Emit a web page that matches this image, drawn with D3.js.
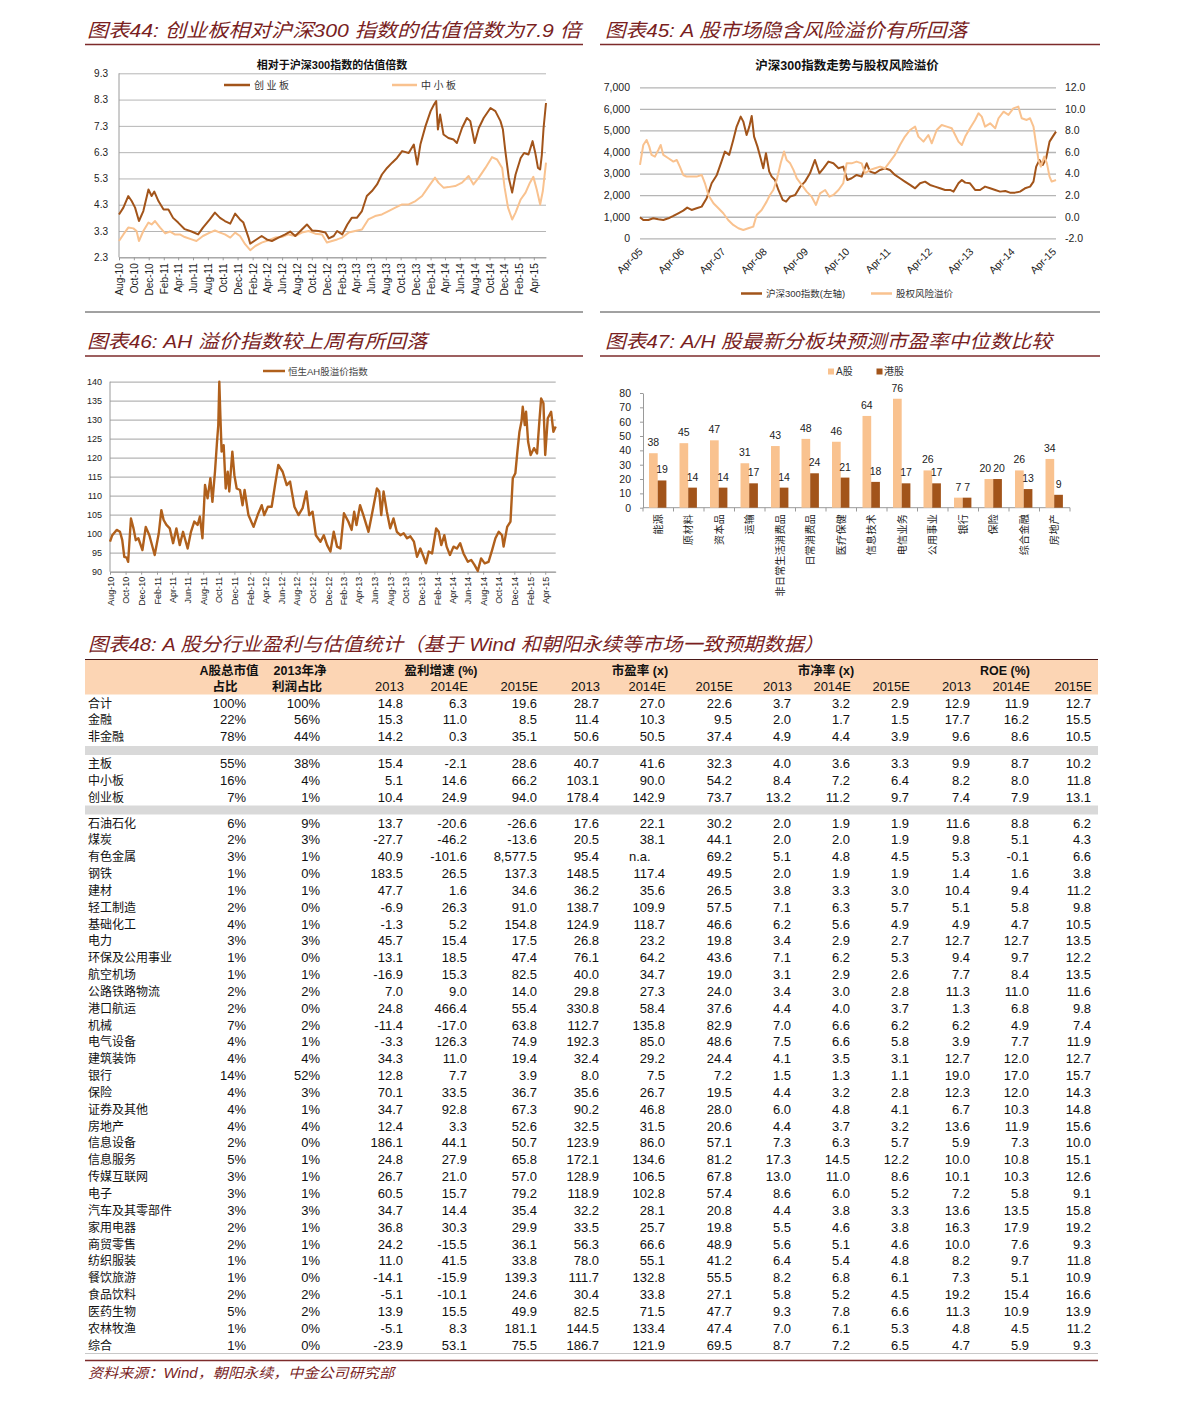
<!DOCTYPE html>
<html lang="zh-CN">
<head>
<meta charset="utf-8">
<title>估值与盈利</title>
<script src="https://cdn.jsdelivr.net/npm/d3@7/dist/d3.min.js"></script>
<style>
html,body{margin:0;padding:0;background:#fff;}
svg{display:block;}
</style>
</head>
<body>
<svg id="page" width="1191" height="1401"></svg>
<script>
// ================= DATA =================
// 图表44
const gemSeries = [["2010-08-01",3.93],["2010-08-19",4.19],["2010-09-08",4.63],["2010-09-22",4.44],["2010-10-06",4.19],["2010-10-22",3.68],["2010-11-09",4.06],["2010-11-30",4.88],["2010-12-13",4.63],["2010-12-24",4.80],["2011-01-10",4.44],["2011-01-31",4.12],["2011-02-20",4.12],["2011-03-11",3.80],["2011-04-01",3.62],["2011-04-28",3.37],["2011-05-26",3.28],["2011-06-22",3.17],["2011-07-12",3.43],["2011-08-09",3.74],["2011-08-30",4.00],["2011-09-20",3.80],["2011-10-10",3.68],["2011-11-01",3.58],["2011-11-21",3.96],["2011-12-11",3.74],["2011-12-25",3.62],["2012-01-15",3.05],["2012-01-22",2.82],["2012-02-12",2.95],["2012-03-09",3.11],["2012-03-30",2.98],["2012-04-20",2.92],["2012-05-17",3.05],["2012-06-14",3.17],["2012-07-04",3.28],["2012-07-25",3.11],["2012-08-15",3.30],["2012-09-11",3.55],["2012-10-02",3.32],["2012-10-29",3.30],["2012-11-26",3.24],["2012-12-10",3.02],["2012-12-30",3.11],["2013-01-13",3.30],["2013-02-03",3.17],["2013-02-24",3.55],["2013-03-14",3.80],["2013-04-04",3.80],["2013-04-25",4.06],["2013-05-15",4.63],["2013-06-05",4.82],["2013-06-26",5.07],["2013-07-16",5.45],["2013-08-06",5.70],["2013-08-27",5.90],["2013-09-16",6.08],["2013-10-07",6.34],["2013-11-03",6.27],["2013-11-24",6.59],["2013-12-08",5.83],["2013-12-21",6.59],["2014-01-11",7.29],["2014-02-01",7.86],["2014-02-15",8.11],["2014-02-24",8.24],["2014-03-03",7.16],["2014-03-12",7.73],["2014-03-26",6.97],["2014-04-15",6.84],["2014-05-06",6.78],["2014-05-20",6.65],["2014-06-10",7.22],["2014-06-30",7.60],["2014-07-14",7.48],["2014-08-01",6.65],["2014-08-18",7.22],["2014-09-07",7.60],["2014-10-05",7.98],["2014-10-25",7.86],["2014-11-15",7.48],["2014-11-25",7.16],["2014-12-05",6.34],["2014-12-19",5.33],["2015-01-02",4.76],["2015-01-16",5.45],["2015-02-06",6.08],["2015-02-20",6.27],["2015-03-10",6.21],["2015-03-27",6.72],["2015-04-07",6.27],["2015-04-18",5.70],["2015-04-27",5.64],["2015-05-04",6.21],["2015-05-11",7.22],["2015-05-21",8.17]];
const smeSeries = [["2010-08-01",2.92],["2010-08-19",3.17],["2010-09-08",3.43],["2010-09-29",3.40],["2010-10-12",3.30],["2010-10-22",2.92],["2010-11-09",3.30],["2010-11-30",3.62],["2010-12-13",3.55],["2010-12-27",3.68],["2011-01-17",3.43],["2011-02-07",3.21],["2011-02-27",3.28],["2011-03-18",3.17],["2011-04-08",3.17],["2011-04-28",3.07],["2011-05-26",2.98],["2011-06-15",2.92],["2011-07-12",3.11],["2011-08-09",3.24],["2011-08-30",3.32],["2011-09-20",3.24],["2011-10-10",3.17],["2011-11-01",3.05],["2011-11-21",3.24],["2011-12-11",3.11],["2012-01-01",2.80],["2012-01-22",2.57],["2012-02-12",2.73],["2012-03-09",2.86],["2012-04-06",2.95],["2012-05-03",3.05],["2012-05-30",3.07],["2012-06-27",3.17],["2012-07-25",3.11],["2012-08-21",3.24],["2012-09-18",3.30],["2012-10-15",3.20],["2012-11-12",3.17],["2012-12-02",2.86],["2012-12-23",2.92],["2013-01-13",2.98],["2013-02-03",3.05],["2013-03-01",3.24],["2013-03-28",3.30],["2013-04-25",3.36],["2013-05-21",3.74],["2013-06-18",3.87],["2013-07-16",3.93],["2013-08-12",4.06],["2013-09-09",4.19],["2013-10-07",4.31],["2013-11-03",4.31],["2013-12-01",4.44],["2013-12-28",4.63],["2014-01-25",5.01],["2014-02-19",5.33],["2014-03-05",5.14],["2014-03-26",4.95],["2014-04-15",4.97],["2014-05-13",5.01],["2014-06-10",5.14],["2014-07-07",5.39],["2014-07-27",5.07],["2014-08-18",5.33],["2014-09-14",5.70],["2014-10-11",6.11],["2014-11-01",6.02],["2014-11-22",5.70],["2014-12-02",4.95],["2014-12-16",4.19],["2015-01-02",3.74],["2015-01-16",4.00],["2015-02-06",4.50],["2015-02-26",4.76],["2015-03-16",5.14],["2015-03-30",5.36],["2015-04-13",4.88],["2015-04-27",4.31],["2015-05-08",4.82],["2015-05-21",5.90]];
const monthTickLabels44 = ["Aug-10","Oct-10","Dec-10","Feb-11","Apr-11","Jun-11","Aug-11","Oct-11","Dec-11","Feb-12","Apr-12","Jun-12","Aug-12","Oct-12","Dec-12","Feb-13","Apr-13","Jun-13","Aug-13","Oct-13","Dec-13","Feb-14","Apr-14","Jun-14","Aug-14","Oct-14","Dec-14","Feb-15","Apr-15"];
const valueTicks44 = [2.3,3.3,4.3,5.3,6.3,7.3,8.3,9.3];

// 图表45
const hs300Series = [["2005-04-01",974],["2005-04-30",850],["2005-06-14",850],["2005-07-27",927],["2005-09-10",881],["2005-10-24",850],["2005-12-08",927],["2006-01-21",1036],["2006-03-05",1159],["2006-04-18",1283],["2006-05-23",1422],["2006-07-01",1314],["2006-08-14",1391],["2006-09-28",1468],["2006-11-11",1855],["2006-12-25",2550],["2007-02-09",2937],["2007-03-22",3555],["2007-04-21",4019],["2007-05-29",3864],["2007-07-04",4560],["2007-08-03",5178],["2007-09-08",5641],["2007-10-01",5410],["2007-10-30",4791],["2007-11-23",5178],["2007-12-14",5672],["2008-01-04",4714],["2008-02-03",4250],["2008-03-02",3709],["2008-03-25",3246],["2008-04-18",3941],["2008-05-17",3091],["2008-06-08",2859],["2008-07-07",2705],["2008-08-06",2241],["2008-09-13",1777],["2008-10-13",1700],["2008-11-18",1932],["2009-01-01",2009],["2009-02-15",2396],["2009-03-29",2627],["2009-05-12",3014],["2009-06-25",3632],["2009-08-03",3014],["2009-09-08",3246],["2009-10-22",3555],["2009-12-05",3478],["2010-01-19",3246],["2010-03-02",3323],["2010-04-07",2705],["2010-05-15",2782],["2010-06-28",2937],["2010-08-12",2859],["2010-09-25",3478],["2010-10-25",3091],["2010-12-08",3014],["2011-01-22",3168],["2011-03-05",3246],["2011-04-19",3168],["2011-06-02",2937],["2011-07-16",2782],["2011-08-29",2627],["2011-10-13",2473],["2011-11-27",2318],["2012-01-10",2550],["2012-02-23",2627],["2012-04-07",2473],["2012-05-21",2396],["2012-07-04",2318],["2012-08-18",2241],["2012-10-01",2241],["2012-11-01",2164],["2012-12-14",2550],["2013-01-13",2705],["2013-02-12",2581],["2013-03-26",2550],["2013-05-10",2241],["2013-06-23",2241],["2013-08-06",2396],["2013-09-20",2318],["2013-11-04",2241],["2013-12-17",2164],["2014-02-01",2195],["2014-03-14",2117],["2014-04-28",2117],["2014-06-11",2164],["2014-07-25",2318],["2014-09-08",2396],["2014-10-08",2627],["2014-11-01",3323],["2014-11-30",3632],["2014-12-29",3400],["2015-01-28",3709],["2015-02-27",4482],["2015-03-27",4714],["2015-04-25",4946]];
const erpSeries = [["2005-04-01",4.8],["2005-04-30",6.65],["2005-05-29",7.12],["2005-06-22",6.5],["2005-07-12",5.73],["2005-08-11",5.57],["2005-09-10",6.19],["2005-10-01",6.65],["2005-10-24",5.73],["2005-12-08",5.42],["2006-01-21",5.11],["2006-02-20",5.26],["2006-03-19",4.65],["2006-04-18",3.87],["2006-05-17",3.72],["2006-07-01",3.72],["2006-08-14",3.72],["2006-09-28",3.87],["2006-10-27",3.1],["2006-11-26",2.02],["2007-01-10",1.25],["2007-02-23",0.78],["2007-04-07",0.32],["2007-05-20",-0.3],["2007-07-04",-0.76],["2007-08-18",-1.07],["2007-10-01",-1.23],["2007-11-14",-1.07],["2007-12-28",-0.92],["2008-01-27",0.16],["2008-03-11",0.63],["2008-04-24",1.4],["2008-05-23",2.02],["2008-06-22",2.48],["2008-07-22",3.41],["2008-08-26",4.95],["2008-09-25",6.04],["2008-10-18",5.26],["2008-11-18",4.95],["2008-12-17",4.34],["2009-01-16",3.56],["2009-02-28",2.95],["2009-04-13",2.33],["2009-05-27",1.86],["2009-07-04",1.09],["2009-08-09",2.17],["2009-09-23",2.48],["2009-10-31",1.86],["2009-12-05",2.02],["2010-01-19",2.48],["2010-03-02",3.1],["2010-04-01",4.95],["2010-05-15",4.95],["2010-06-28",5.11],["2010-08-12",4.95],["2010-09-11",4.03],["2010-10-25",4.34],["2010-12-08",4.49],["2011-01-22",4.65],["2011-03-05",4.49],["2011-04-19",5.11],["2011-06-02",5.73],["2011-07-16",6.65],["2011-08-29",7.43],["2011-10-13",8.04],["2011-11-27",8.35],["2011-12-26",7.43],["2012-02-09",6.96],["2012-03-23",7.58],["2012-04-22",6.81],["2012-06-05",8.04],["2012-07-19",8.51],["2012-09-02",8.35],["2012-10-16",8.2],["2012-11-15",7.58],["2012-12-14",6.96],["2013-01-13",6.65],["2013-02-12",7.43],["2013-03-26",8.2],["2013-05-10",8.97],["2013-06-09",9.59],["2013-07-08",9.28],["2013-08-06",8.35],["2013-09-20",8.66],["2013-11-04",8.2],["2013-12-03",9.13],["2014-01-17",9.74],["2014-03-01",9.44],["2014-04-13",10.05],["2014-05-27",10.21],["2014-06-26",9.13],["2014-08-09",8.97],["2014-09-08",9.13],["2014-10-08",8.35],["2014-11-01",6.65],["2014-11-21",5.26],["2014-12-12",4.65],["2015-01-11",5.57],["2015-02-04",4.95],["2015-02-27",3.72],["2015-03-18",3.26],["2015-04-25",3.41]];
const yearTickLabels45 = ["Apr-05","Apr-06","Apr-07","Apr-08","Apr-09","Apr-10","Apr-11","Apr-12","Apr-13","Apr-14","Apr-15"];
const leftTicks45 = [0,1000,2000,3000,4000,5000,6000,7000];
const rightTicks45 = [-2,0,2,4,6,8,10,12];

// 图表46
const ahSeries = [["2010-08-01",97.9],["2010-08-10",99.6],["2010-08-27",101.0],["2010-09-09",100.5],["2010-09-18",98.3],["2010-09-26",93.9],["2010-10-05",93.7],["2010-10-11",92.6],["2010-10-22",104.0],["2010-11-01",101.4],["2010-11-10",98.3],["2010-11-20",98.8],["2010-12-06",95.7],["2010-12-19",101.8],["2011-01-02",99.6],["2011-01-23",94.4],["2011-02-08",100.1],["2011-02-18",106.2],["2011-02-27",103.6],["2011-03-10",102.3],["2011-03-23",101.4],["2011-04-05",97.5],["2011-04-18",101.4],["2011-05-01",97.0],["2011-05-14",100.5],["2011-06-01",96.1],["2011-06-14",100.5],["2011-06-27",103.2],["2011-07-10",102.3],["2011-07-19",104.5],["2011-07-29",98.8],["2011-08-08",112.8],["2011-08-18",109.3],["2011-08-29",114.6],["2011-09-06",108.4],["2011-09-16",116.3],["2011-09-24",124.2],["2011-09-29",128.6],["2011-10-03",140.0],["2011-10-07",131.2],["2011-10-12",121.6],["2011-10-20",123.3],["2011-10-28",111.9],["2011-11-05",116.3],["2011-11-11",111.1],["2011-11-23",121.6],["2011-12-01",115.4],["2011-12-10",111.9],["2011-12-23",111.5],["2012-01-02",107.5],["2012-01-10",111.5],["2012-01-25",104.9],["2012-02-14",101.8],["2012-03-01",104.9],["2012-03-17",107.5],["2012-03-27",104.9],["2012-04-10",107.1],["2012-04-25",107.1],["2012-05-08",112.8],["2012-05-21",118.1],["2012-06-07",116.3],["2012-06-23",112.8],["2012-07-06",113.7],["2012-07-23",107.1],["2012-08-08",104.9],["2012-08-24",106.7],["2012-09-08",111.1],["2012-09-19",104.9],["2012-10-02",105.8],["2012-10-15",99.6],["2012-11-02",97.9],["2012-11-15",99.6],["2012-11-28",97.0],["2012-12-11",95.3],["2012-12-24",100.5],["2013-01-06",96.6],["2013-01-19",96.1],["2013-02-02",105.4],["2013-02-19",103.2],["2013-03-04",101.0],["2013-03-14",105.8],["2013-03-23",102.3],["2013-04-06",107.5],["2013-04-19",104.9],["2013-05-09",100.5],["2013-05-22",104.9],["2013-06-11",111.9],["2013-06-20",111.1],["2013-06-28",104.9],["2013-07-07",111.1],["2013-07-20",105.8],["2013-08-02",101.4],["2013-08-15",104.0],["2013-08-28",100.5],["2013-09-11",99.6],["2013-09-24",100.1],["2013-10-07",98.8],["2013-10-20",99.3],["2013-11-03",97.9],["2013-11-15",93.9],["2013-11-28",96.1],["2013-12-11",93.9],["2013-12-20",92.2],["2013-12-31",95.3],["2014-01-13",94.8],["2014-01-29",101.4],["2014-02-08",100.5],["2014-02-18",97.0],["2014-03-02",99.6],["2014-03-11",96.6],["2014-03-24",94.4],["2014-04-07",96.6],["2014-04-20",96.1],["2014-05-03",97.5],["2014-05-16",94.8],["2014-06-02",92.6],["2014-06-15",93.1],["2014-06-28",91.8],["2014-07-11",90.2],["2014-07-24",93.5],["2014-08-07",92.2],["2014-08-22",92.6],["2014-09-05",95.7],["2014-09-18",98.8],["2014-10-01",100.5],["2014-10-14",99.6],["2014-10-20",96.6],["2014-11-03",101.8],["2014-11-16",103.2],["2014-11-25",114.6],["2014-12-05",115.9],["2014-12-13",121.6],["2014-12-21",126.8],["2014-12-29",129.5],["2015-01-03",133.4],["2015-01-11",128.6],["2015-01-16",132.1],["2015-01-24",124.2],["2015-02-03",120.7],["2015-02-16",122.5],["2015-02-28",121.1],["2015-03-09",129.5],["2015-03-16",135.6],["2015-03-25",134.3],["2015-04-01",120.7],["2015-04-11",130.4],["2015-04-24",132.1],["2015-05-03",126.8],["2015-05-12",128.2]];
const monthTickLabels46 = ["Aug-10","Oct-10","Dec-10","Feb-11","Apr-11","Jun-11","Aug-11","Oct-11","Dec-11","Feb-12","Apr-12","Jun-12","Aug-12","Oct-12","Dec-12","Feb-13","Apr-13","Jun-13","Aug-13","Oct-13","Dec-13","Feb-14","Apr-14","Jun-14","Aug-14","Oct-14","Dec-14","Feb-15","Apr-15"];
const valueTicks46 = [90,95,100,105,110,115,120,125,130,135,140];

// 图表47
const barCategories = ["能源","原材料","资本品","运输","非日常生活消费品","日常消费品","医疗保健","信息技术","电信业务","公用事业","银行","保险","综合金融","房地产"];
const aShareValues = [38,45,47,31,43,48,46,64,76,26,7,20,26,34];
const hShareValues = [19,14,14,17,14,24,21,18,17,17,7,20,13,9];
const valueTicks47 = [0,10,20,30,40,50,60,70,80];

// 图表48
const tableYears = ["2013","2014E","2015E"];
const tableGroups = ["盈利增速 (%)","市盈率 (x)","市净率 (x)","ROE (%)"];
const rowsTotal = [
 ["合计",100,100,14.8,6.3,19.6,28.7,27.0,22.6,3.7,3.2,2.9,12.9,11.9,12.7],
 ["金融",22,56,15.3,11.0,8.5,11.4,10.3,9.5,2.0,1.7,1.5,17.7,16.2,15.5],
 ["非金融",78,44,14.2,0.3,35.1,50.6,50.5,37.4,4.9,4.4,3.9,9.6,8.6,10.5]];
const rowsBoard = [
 ["主板",55,38,15.4,-2.1,28.6,40.7,41.6,32.3,4.0,3.6,3.3,9.9,8.7,10.2],
 ["中小板",16,4,5.1,14.6,66.2,103.1,90.0,54.2,8.4,7.2,6.4,8.2,8.0,11.8],
 ["创业板",7,1,10.4,24.9,94.0,178.4,142.9,73.7,13.2,11.2,9.7,7.4,7.9,13.1]];
const rowsSector = [
 ["石油石化",6,9,13.7,-20.6,-26.6,17.6,22.1,30.2,2.0,1.9,1.9,11.6,8.8,6.2],
 ["煤炭",2,3,-27.7,-46.2,-13.6,20.5,38.1,44.1,2.0,2.0,1.9,9.8,5.1,4.3],
 ["有色金属",3,1,40.9,-101.6,8577.5,95.4,"n.a.",69.2,5.1,4.8,4.5,5.3,-0.1,6.6],
 ["钢铁",1,0,183.5,26.5,137.3,148.5,117.4,49.5,2.0,1.9,1.9,1.4,1.6,3.8],
 ["建材",1,1,47.7,1.6,34.6,36.2,35.6,26.5,3.8,3.3,3.0,10.4,9.4,11.2],
 ["轻工制造",2,0,-6.9,26.3,91.0,138.7,109.9,57.5,7.1,6.3,5.7,5.1,5.8,9.8],
 ["基础化工",4,1,-1.3,5.2,154.8,124.9,118.7,46.6,6.2,5.6,4.9,4.9,4.7,10.5],
 ["电力",3,3,45.7,15.4,17.5,26.8,23.2,19.8,3.4,2.9,2.7,12.7,12.7,13.5],
 ["环保及公用事业",1,0,13.1,18.5,47.4,76.1,64.2,43.6,7.1,6.2,5.3,9.4,9.7,12.2],
 ["航空机场",1,1,-16.9,15.3,82.5,40.0,34.7,19.0,3.1,2.9,2.6,7.7,8.4,13.5],
 ["公路铁路物流",2,2,7.0,9.0,14.0,29.8,27.3,24.0,3.4,3.0,2.8,11.3,11.0,11.6],
 ["港口航运",2,0,24.8,466.4,55.4,330.8,58.4,37.6,4.4,4.0,3.7,1.3,6.8,9.8],
 ["机械",7,2,-11.4,-17.0,63.8,112.7,135.8,82.9,7.0,6.6,6.2,6.2,4.9,7.4],
 ["电气设备",4,1,-3.3,126.3,74.9,192.3,85.0,48.6,7.5,6.6,5.8,3.9,7.7,11.9],
 ["建筑装饰",4,4,34.3,11.0,19.4,32.4,29.2,24.4,4.1,3.5,3.1,12.7,12.0,12.7],
 ["银行",14,52,12.8,7.7,3.9,8.0,7.5,7.2,1.5,1.3,1.1,19.0,17.0,15.7],
 ["保险",4,3,70.1,33.5,36.7,35.6,26.7,19.5,4.4,3.2,2.8,12.3,12.0,14.3],
 ["证券及其他",4,1,34.7,92.8,67.3,90.2,46.8,28.0,6.0,4.8,4.1,6.7,10.3,14.8],
 ["房地产",4,4,12.4,3.3,52.6,32.5,31.5,20.6,4.4,3.7,3.2,13.6,11.9,15.6],
 ["信息设备",2,0,186.1,44.1,50.7,123.9,86.0,57.1,7.3,6.3,5.7,5.9,7.3,10.0],
 ["信息服务",5,1,24.8,27.9,65.8,172.1,134.6,81.2,17.3,14.5,12.2,10.0,10.8,15.1],
 ["传媒互联网",3,1,26.7,21.0,57.0,128.9,106.5,67.8,13.0,11.0,8.6,10.1,10.3,12.6],
 ["电子",3,1,60.5,15.7,79.2,118.9,102.8,57.4,8.6,6.0,5.2,7.2,5.8,9.1],
 ["汽车及其零部件",3,3,34.7,14.4,35.4,32.2,28.1,20.8,4.4,3.8,3.3,13.6,13.5,15.8],
 ["家用电器",2,1,36.8,30.3,29.9,33.5,25.7,19.8,5.5,4.6,3.8,16.3,17.9,19.2],
 ["商贸零售",2,1,24.2,-15.5,36.1,56.3,66.6,48.9,5.6,5.1,4.6,10.0,7.6,9.3],
 ["纺织服装",1,1,11.0,41.5,33.8,78.0,55.1,41.2,6.4,5.4,4.8,8.2,9.7,11.8],
 ["餐饮旅游",1,0,-14.1,-15.9,139.3,111.7,132.8,55.5,8.2,6.8,6.1,7.3,5.1,10.9],
 ["食品饮料",2,2,-5.1,-10.1,24.6,30.4,33.8,27.1,5.8,5.2,4.5,19.2,15.4,16.6],
 ["医药生物",5,2,13.9,15.5,49.9,82.5,71.5,47.7,9.3,7.8,6.6,11.3,10.9,13.9],
 ["农林牧渔",1,0,-5.1,8.3,181.1,144.5,133.4,47.4,7.0,6.1,5.3,4.8,4.5,11.2],
 ["综合",1,0,-23.9,53.1,75.5,186.7,121.9,69.5,8.7,7.2,6.5,4.7,5.9,9.3]];

// ================= RENDER =================
const LATIN = "Arial, 'Liberation Sans', 'Noto Sans CJK SC', sans-serif";
const CJK = "'Noto Sans CJK SC', 'Noto Sans CJK JP', sans-serif";
const DARK = "#a2541a", LIGHT = "#f9c28f", AH = "#b0601c";
const TITLE = "#7a1f1f", RULE = "#7d2b2b", GRID = "#b5b5b5", AXIS = "#9a9a9a";
const parseDate = d3.timeParse("%Y-%m-%d");
const parseTick = d3.timeParse("%b-%y");
const fmtTick = d3.timeFormat("%b-%y");
const loc = d3.formatLocale({decimal: ".", thousands: ",", grouping: [3], currency: ["", ""], minus: "-"});
const f1 = loc.format(",.1f"), fInt = loc.format(",");

const svg = d3.select("#page").attr("font-family", LATIN);
svg.append("rect").attr("width", 1191).attr("height", 1401).attr("fill", "#fff");

function sectionTitle(x, y, txt, len) {
  svg.append("text").attr("x", x).attr("y", y).attr("font-size", 19).attr("font-style", "italic")
    .attr("fill", TITLE).attr("textLength", len).attr("lengthAdjust", "spacingAndGlyphs").text(txt);
}
function rule(x1, x2, y, col, w) {
  svg.append("line").attr("x1", x1).attr("x2", x2).attr("y1", y).attr("y2", y).attr("stroke", col).attr("stroke-width", w);
}

// ---------- 图表44 ----------
sectionTitle(87, 37, "图表44: 创业板相对沪深300 指数的估值倍数为7.9 倍", 494);
rule(85, 583, 44.5, RULE, 1.4);
rule(85, 583, 312, "#444", 1);
{
  const x = d3.scaleTime().domain([parseDate("2010-08-01"), parseDate("2015-05-21")]).range([119, 546]);
  const y = d3.scaleLinear().domain([2.3, 9.3]).range([257.3, 73.3]);
  const g = svg.append("g");
  g.append("g").attr("transform", "translate(119,0)")
    .call(d3.axisLeft(y).tickValues(valueTicks44).tickSize(-(546 - 119)).tickPadding(11).tickFormat(d3.format(".1f")))
    .call(a => a.select(".domain").remove())
    .call(a => a.selectAll("line").attr("stroke", GRID))
    .call(a => a.selectAll("text").attr("font-size", 10).attr("fill", "#222").attr("font-family", LATIN));
  g.append("line").attr("x1", 119).attr("x2", 119).attr("y1", 73.3).attr("y2", 257.3).attr("stroke", AXIS);
  g.append("g").attr("transform", "translate(0,257.3)")
    .call(d3.axisBottom(x).tickValues(monthTickLabels44.map(parseTick)).tickSize(3).tickSizeOuter(0).tickFormat(fmtTick))
    .call(a => a.select(".domain").attr("stroke", AXIS))
    .call(a => a.selectAll("line").attr("stroke", AXIS))
    .call(a => a.selectAll("text").attr("font-size", 10).attr("fill", "#222").attr("font-family", LATIN)
      .attr("transform", "rotate(-90)").attr("text-anchor", "end").attr("x", -6).attr("y", 0).attr("dy", "0.35em"));
  const line = d3.line().x(d => x(parseDate(d[0]))).y(d => y(d[1]));
  g.append("path").datum(smeSeries).attr("d", line).attr("fill", "none").attr("stroke", LIGHT).attr("stroke-width", 2).attr("stroke-linejoin", "round");
  g.append("path").datum(gemSeries).attr("d", line).attr("fill", "none").attr("stroke", DARK).attr("stroke-width", 2).attr("stroke-linejoin", "round");
  g.append("text").attr("x", 332).attr("y", 69).attr("text-anchor", "middle").attr("font-size", 11).attr("font-weight", "bold").attr("fill", "#111").text("相对于沪深300指数的估值倍数");
  g.append("line").attr("x1", 224).attr("x2", 250).attr("y1", 85).attr("y2", 85).attr("stroke", DARK).attr("stroke-width", 2.5);
  g.append("text").attr("x", 254).attr("y", 88.5).attr("font-size", 10).attr("letter-spacing", 2.5).attr("fill", "#333").text("创业板");
  g.append("line").attr("x1", 392).attr("x2", 417).attr("y1", 85).attr("y2", 85).attr("stroke", LIGHT).attr("stroke-width", 2.5);
  g.append("text").attr("x", 421).attr("y", 88.5).attr("font-size", 10).attr("letter-spacing", 2.5).attr("fill", "#333").text("中小板");
}

// ---------- 图表45 ----------
sectionTitle(605, 37, "图表45: A 股市场隐含风险溢价有所回落", 362);
rule(600, 1100, 44.5, RULE, 1.4);
rule(600, 1100, 312, "#444", 1);
{
  const x = d3.scaleTime().domain([parseDate("2005-04-01"), parseDate("2015-04-25")]).range([640, 1056]);
  const yL = d3.scaleLinear().domain([0, 7000]).range([238.3, 87.3]);
  const yR = d3.scaleLinear().domain([-2, 12]).range([238.3, 87.3]);
  const g = svg.append("g");
  g.append("g").attr("transform", "translate(640,0)")
    .call(d3.axisLeft(yL).tickValues(leftTicks45).tickSize(-(1056 - 640)).tickPadding(10).tickFormat(fInt))
    .call(a => a.select(".domain").remove())
    .call(a => a.selectAll("line").attr("stroke", GRID).attr("stroke-width", 1.3))
    .call(a => a.selectAll("text").attr("font-size", 10.5).attr("fill", "#222").attr("font-family", LATIN));
  g.append("g").attr("transform", "translate(1056,0)")
    .call(d3.axisRight(yR).tickValues(rightTicks45).tickSize(0).tickPadding(9).tickFormat(loc.format(".1f")))
    .call(a => a.select(".domain").remove())
    .call(a => a.selectAll("text").attr("font-size", 10.5).attr("fill", "#222").attr("font-family", LATIN));
  g.append("g").attr("transform", "translate(0,238.3)")
    .call(d3.axisBottom(x).tickValues(yearTickLabels45.map(parseTick)).tickSize(0).tickFormat(fmtTick))
    .call(a => a.select(".domain").remove())
    .call(a => a.selectAll("text").attr("font-size", 10.5).attr("fill", "#222").attr("font-family", LATIN)
      .attr("text-anchor", "end").attr("x", 0).attr("y", 0).attr("dy", 0)
      .attr("transform", "translate(3,14) rotate(-45)"));
  const lineL = d3.line().x(d => x(parseDate(d[0]))).y(d => yL(d[1]));
  const lineR = d3.line().x(d => x(parseDate(d[0]))).y(d => yR(d[1]));
  g.append("path").datum(hs300Series).attr("d", lineL).attr("fill", "none").attr("stroke", DARK).attr("stroke-width", 2).attr("stroke-linejoin", "round");
  g.append("path").datum(erpSeries).attr("d", lineR).attr("fill", "none").attr("stroke", LIGHT).attr("stroke-width", 2).attr("stroke-linejoin", "round");
  g.append("text").attr("x", 847).attr("y", 70).attr("text-anchor", "middle").attr("font-size", 12.5).attr("font-weight", "bold").attr("fill", "#111").text("沪深300指数走势与股权风险溢价");
  g.append("line").attr("x1", 741).attr("x2", 762).attr("y1", 293.5).attr("y2", 293.5).attr("stroke", DARK).attr("stroke-width", 2.5);
  g.append("text").attr("x", 766).attr("y", 297).attr("font-size", 9.5).attr("fill", "#333").text("沪深300指数(左轴)");
  g.append("line").attr("x1", 871).attr("x2", 892).attr("y1", 293.5).attr("y2", 293.5).attr("stroke", LIGHT).attr("stroke-width", 2.5);
  g.append("text").attr("x", 896).attr("y", 297).attr("font-size", 9.5).attr("fill", "#333").text("股权风险溢价");
}

// ---------- 图表46 ----------
sectionTitle(87, 348, "图表46: AH 溢价指数较上周有所回落", 340);
rule(85, 583, 356, RULE, 1.4);
{
  const x = d3.scaleTime().domain([parseDate("2010-08-01"), parseDate("2015-05-12")]).range([110, 555.7]);
  const y = d3.scaleLinear().domain([90, 140]).range([571.7, 381.7]);
  const g = svg.append("g");
  g.append("g").attr("transform", "translate(110,0)")
    .call(d3.axisLeft(y).tickValues(valueTicks46).tickSize(-(555.7 - 110)).tickPadding(8))
    .call(a => a.select(".domain").remove())
    .call(a => a.selectAll("line").attr("stroke", GRID).attr("stroke-width", 1.2))
    .call(a => a.selectAll("text").attr("font-size", 9).attr("fill", "#222").attr("font-family", LATIN));
  g.append("line").attr("x1", 110).attr("x2", 110).attr("y1", 381.7).attr("y2", 571.7).attr("stroke", AXIS);
  g.append("g").attr("transform", "translate(0,571.7)")
    .call(d3.axisBottom(x).tickValues(monthTickLabels46.map(parseTick)).tickSize(3).tickSizeOuter(0).tickFormat(fmtTick))
    .call(a => a.select(".domain").attr("stroke", AXIS))
    .call(a => a.selectAll("line").attr("stroke", AXIS))
    .call(a => a.selectAll("text").attr("font-size", 9).attr("fill", "#222").attr("font-family", LATIN)
      .attr("transform", "rotate(-90)").attr("text-anchor", "end").attr("x", -5).attr("y", 0).attr("dy", "0.35em"));
  const line = d3.line().x(d => x(parseDate(d[0]))).y(d => y(d[1]));
  g.append("path").datum(ahSeries).attr("d", line).attr("fill", "none").attr("stroke", AH).attr("stroke-width", 2.4).attr("stroke-linejoin", "round");
  g.append("line").attr("x1", 263).attr("x2", 285).attr("y1", 371).attr("y2", 371).attr("stroke", AH).attr("stroke-width", 2.5);
  g.append("text").attr("x", 288).attr("y", 374.5).attr("font-size", 9.5).attr("fill", "#444").text("恒生AH股溢价指数");
}

// ---------- 图表47 ----------
sectionTitle(605, 348, "图表47: A/H 股最新分板块预测市盈率中位数比较", 447);
rule(600, 1100, 356, RULE, 1.4);
{
  const x = d3.scaleBand().domain(barCategories).range([643, 1070]);
  const y = d3.scaleLinear().domain([0, 80]).range([507.7, 393]);
  const bw = x.bandwidth();
  const g = svg.append("g");
  g.append("g").attr("transform", "translate(643,0)")
    .call(d3.axisLeft(y).tickValues(valueTicks47).tickSize(3).tickSizeOuter(0).tickPadding(9))
    .call(a => a.select(".domain").attr("stroke", AXIS))
    .call(a => a.selectAll("line").attr("stroke", AXIS))
    .call(a => a.selectAll("text").attr("font-size", 10.5).attr("fill", "#222").attr("font-family", LATIN));
  g.append("line").attr("x1", 643).attr("x2", 1070).attr("y1", 507.7).attr("y2", 507.7).attr("stroke", AXIS);
  g.selectAll("line.bt").data(barCategories.concat([null])).join("line").attr("class", "bt")
    .attr("x1", d => d ? x(d) : 1070).attr("x2", d => d ? x(d) : 1070)
    .attr("y1", 507.7).attr("y2", 511.5).attr("stroke", AXIS);
  g.selectAll("rect.a").data(barCategories).join("rect").attr("class", "a")
    .attr("x", d => x(d) + bw * 0.197).attr("width", bw * 0.285)
    .attr("y", (d, i) => y(aShareValues[i])).attr("height", (d, i) => y(0) - y(aShareValues[i])).attr("fill", LIGHT);
  g.selectAll("rect.h").data(barCategories).join("rect").attr("class", "h")
    .attr("x", d => x(d) + bw * 0.482).attr("width", bw * 0.285)
    .attr("y", (d, i) => y(hShareValues[i])).attr("height", (d, i) => y(0) - y(hShareValues[i])).attr("fill", DARK);
  // when the two labels sit at the same height and are two digits wide, nudge them apart
  const clash = i => Math.abs(aShareValues[i] - hShareValues[i]) < 3 && aShareValues[i] >= 10;
  g.selectAll("text.al").data(barCategories).join("text").attr("class", "al")
    .attr("x", (d, i) => x(d) + bw * 0.34 - (clash(i) ? 3.5 : 0)).attr("y", (d, i) => y(aShareValues[i]) - 7)
    .attr("text-anchor", "middle").attr("font-size", 10.5).attr("fill", "#222").text((d, i) => aShareValues[i]);
  g.selectAll("text.hl").data(barCategories).join("text").attr("class", "hl")
    .attr("x", (d, i) => x(d) + bw * 0.625 + (clash(i) ? 1.5 : 0)).attr("y", (d, i) => y(hShareValues[i]) - 7)
    .attr("text-anchor", "middle").attr("font-size", 10.5).attr("fill", "#222").text((d, i) => hShareValues[i]);
  g.selectAll("text.cat").data(barCategories).join("text").attr("class", "cat")
    .attr("transform", d => `translate(${x(d) + bw / 2},514) rotate(-90)`)
    .attr("text-anchor", "end").attr("dy", "0.35em").attr("font-size", 10).attr("letter-spacing", 0.3)
    .attr("font-family", CJK).attr("fill", "#222").text(d => d);
  g.append("rect").attr("x", 828).attr("y", 368.5).attr("width", 6).attr("height", 6).attr("fill", LIGHT);
  g.append("text").attr("x", 836).attr("y", 375).attr("font-size", 10).attr("fill", "#333").text("A股");
  g.append("rect").attr("x", 876.5).attr("y", 368.5).attr("width", 6).attr("height", 6).attr("fill", DARK);
  g.append("text").attr("x", 884).attr("y", 375).attr("font-size", 10).attr("fill", "#333").text("港股");
}

// ---------- 图表48 ----------
sectionTitle(88, 651, "图表48: A 股分行业盈利与估值统计（基于 Wind 和朝阳永续等市场一致预期数据）", 736);
{
  const g = svg.append("g");
  const colRight = [246, 320, 403, 467, 537, 599, 665, 732, 791, 850, 909, 970, 1029, 1091];
  g.append("rect").attr("x", 85).attr("y", 659.5).attr("width", 1013).attr("height", 35).attr("fill", "#fcd5b4");
  g.append("line").attr("x1", 85).attr("x2", 1098).attr("y1", 659.5).attr("y2", 659.5).attr("stroke", "#4a1818").attr("stroke-width", 1);
  const hb = (xx, yy, t, anchor) => g.append("text").attr("x", xx).attr("y", yy).attr("text-anchor", anchor || "middle")
    .attr("font-size", 12.5).attr("font-weight", "bold").attr("fill", "#111").text(t);
  hb(229, 675, "A股总市值"); hb(225, 691, "占比");
  hb(300, 675, "2013年净"); hb(297, 691, "利润占比");
  const groupCenters = [441, 640, 826, 1005];
  tableGroups.forEach((t, i) => hb(groupCenters[i], 675, t));
  for (let gi = 0; gi < 4; gi++) {
    tableYears.forEach((yr, k) => {
      g.append("text").attr("x", colRight[2 + gi * 3 + k] + 1).attr("y", 691).attr("text-anchor", "end")
        .attr("font-size", 13).attr("fill", "#111").text(yr);
    });
  }
  g.append("rect").attr("x", 85).attr("y", 746).attr("width", 1013).attr("height", 9).attr("fill", "#d9d9d9");
  g.append("rect").attr("x", 85).attr("y", 805.5).attr("width", 1013).attr("height", 9).attr("fill", "#d9d9d9");
  function drawRows(rows, y0, step) {
    rows.forEach((r, i) => {
      const yy = y0 + i * step;
      g.append("text").attr("x", 88).attr("y", yy).attr("font-family", CJK).attr("font-size", 12).attr("fill", "#111").text(r[0]);
      g.append("text").attr("x", colRight[0]).attr("y", yy).attr("text-anchor", "end").attr("font-size", 13).attr("fill", "#111").text(r[1] + "%");
      g.append("text").attr("x", colRight[1]).attr("y", yy).attr("text-anchor", "end").attr("font-size", 13).attr("fill", "#111").text(r[2] + "%");
      for (let k = 3; k < r.length; k++) {
        const v = r[k];
        const t = g.append("text").attr("y", yy).attr("font-size", 13).attr("fill", "#111");
        if (typeof v === "string") t.attr("x", colRight[k - 1] - 36).attr("text-anchor", "start").text(v);
        else t.attr("x", colRight[k - 1]).attr("text-anchor", "end").text(f1(v));
      }
    });
  }
  drawRows(rowsTotal, 707.5, 16.9);
  drawRows(rowsBoard, 768, 16.9);
  drawRows(rowsSector, 827.5, 16.84);
  g.append("line").attr("x1", 85).attr("x2", 1098).attr("y1", 1353.5).attr("y2", 1353.5).attr("stroke", "#c8c8c8").attr("stroke-width", 1);
  g.append("line").attr("x1", 85).attr("x2", 1098).attr("y1", 1360.5).attr("y2", 1360.5).attr("stroke", RULE).attr("stroke-width", 1.4);
  g.append("text").attr("x", 88).attr("y", 1378).attr("font-size", 14).attr("font-style", "italic").attr("fill", TITLE)
    .attr("textLength", 306).attr("lengthAdjust", "spacingAndGlyphs").text("资料来源：Wind，朝阳永续，中金公司研究部");
}
</script>
</body>
</html>
